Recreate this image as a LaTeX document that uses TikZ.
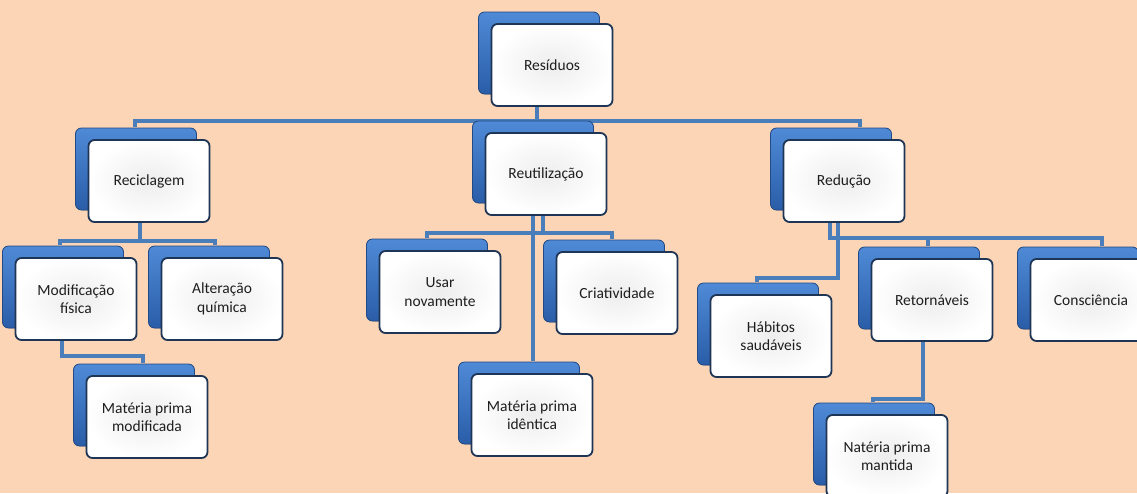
\documentclass[tikz,border=0pt]{standalone}
\usepackage{fontspec}
\setmainfont{Carlito}
\usetikzlibrary{shadows,backgrounds}

\definecolor{bgpeach}{HTML}{FBD5B5}
\definecolor{connblue}{HTML}{4A7EBB}
\definecolor{backtop}{HTML}{4F8AD6}
\definecolor{backbot}{HTML}{2A5DA8}
\definecolor{edgenavy}{HTML}{1F3556}
\definecolor{txtgray}{HTML}{1E1E1E}

\tikzset{
  orgbox/.style={draw=edgenavy, line width=1.8pt, rounded corners=6pt,
    minimum width=121pt, minimum height=82pt,
    inner color=gray!14, outer color=white,
    align=center, text=txtgray, font=\fontsize{15.5}{18.5}\selectfont,
    copy shadow={shadow xshift=-13pt, shadow yshift=12pt,
      draw=backbot!80!black, line width=0.8pt,
      top color=backtop, bottom color=backbot}},
  conn/.style={connblue, line width=4pt}
}

\begin{document}
\begin{tikzpicture}[x=1pt, y=-1pt]
  % Page size and background
  \useasboundingbox (0,0) rectangle (1137,493);

  % Top level
  \node[orgbox] (res) at (552,65) {Resíduos};

  % Second level
  \node[orgbox] (rec) at (149,181) {Reciclagem};
  \node[orgbox] (reu) at (546,174) {Reutilização};
  \node[orgbox] (red) at (844,181) {Redução};

  % Under Reciclagem
  \node[orgbox] (mod) at (76,299)  {Modificação\\física};
  \node[orgbox] (alt) at (222,299) {Alteração\\química};
  \node[orgbox] (mpm) at (147,417) {Matéria prima\\modificada};

  % Under Reutilização
  \node[orgbox] (usa) at (440,292) {Usar\\novamente};
  \node[orgbox] (cri) at (617,293) {Criatividade};
  \node[orgbox] (mpi) at (532,415) {Matéria prima\\idêntica};

  % Under Redução
  \node[orgbox] (hab) at (771,336)  {Hábitos\\saudáveis};
  \node[orgbox] (ret) at (932,300)  {Retornáveis};
  \node[orgbox] (con) at (1091,300) {Consciência};
  \node[orgbox] (nat) at (887,456)  {Natéria prima\\mantida};

  % Connectors, behind the boxes
  \begin{scope}[on background layer]
    \fill[bgpeach] (0,0) rectangle (1137,493);

    \draw[conn] ([xshift=-15pt]res.south) -- ++(0,14) -| ([xshift=-14pt,yshift=12pt]rec.north);
    \draw[conn] ([xshift=-15pt]res.south) -- ++(0,14) -| ([xshift=16pt,yshift=12pt]red.north);
    \draw[conn] ([xshift=-15pt]res.south) -- ([xshift=-9pt,yshift=12pt]reu.north);

    \draw[conn] ([xshift=-9pt]rec.south) -- ++(0,18) -| ([xshift=-16pt,yshift=12pt]mod.north);
    \draw[conn] ([xshift=-9pt]rec.south) -- ++(0,18) -| ([xshift=-7pt,yshift=12pt]alt.north);
    \draw[conn] ([xshift=-14pt]mod.south) -- ++(0,15) -| ([xshift=-4pt,yshift=12pt]mpm.north);

    \draw[conn] ([xshift=-3pt]reu.south) -- ++(0,17) -| ([xshift=-13pt,yshift=12pt]usa.north);
    \draw[conn] ([xshift=-3pt]reu.south) -- ++(0,17) -| ([xshift=-5pt,yshift=12pt]cri.north);
    \draw[conn] ([xshift=-13pt]reu.south) -- ([xshift=1pt,yshift=12pt]mpi.north);

    \draw[conn] ([xshift=-14pt]red.south) -- ++(0,15) -| ([xshift=-4pt,yshift=12pt]ret.north);
    \draw[conn] ([xshift=-14pt]red.south) -- ++(0,15) -| ([xshift=11pt,yshift=12pt]con.north);
    \draw[conn] ([xshift=-6pt]red.south) -- ++(0,55) -| ([xshift=-14pt,yshift=12pt]hab.north);
    \draw[conn] ([xshift=-9pt]ret.south) -- ++(0,57) -| ([xshift=-14pt,yshift=12pt]nat.north);
  \end{scope}
\end{tikzpicture}
\end{document}
